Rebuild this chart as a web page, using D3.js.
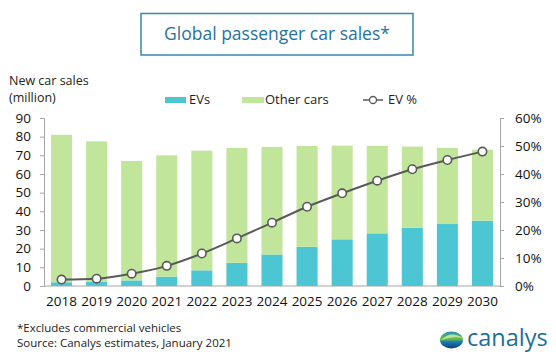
<!DOCTYPE html>
<html><head><meta charset="utf-8">
<script src="https://cdn.jsdelivr.net/npm/d3@7"></script>
<style>body{margin:0;background:#fff}svg{display:block;font-family:"Open Sans",sans-serif}</style>
</head><body><svg id="c" width="556" height="355"></svg>
<script>
const years = ["2018","2019","2020","2021","2022","2023","2024","2025","2026","2027","2028","2029","2030"];
const evSales = [2, 2.2, 3, 5, 8.4, 12.4, 16.9, 21, 25, 28.2, 31.2, 33.2, 35];
const totalSales = [81, 77.5, 67, 70, 72.5, 74, 74.5, 75, 75.2, 75.1, 74.7, 74, 73];
const evPct = [2.3, 2.6, 4.4, 7.2, 11.6, 17, 22.6, 28.3, 33.1, 37.6, 41.7, 45, 48];
const leftTicks = [0,10,20,30,40,50,60,70,80,90];
const rightTicks = [0,10,20,30,40,50,60];

const svg = d3.select("#c");
const x0=44, x1=500, yTop=118, yBot=286;
const x = d3.scaleBand().domain(years).range([x0,x1]).paddingInner(0.4).paddingOuter(0.2);
const yL = d3.scaleLinear().domain([0,90]).range([yBot,yTop]);
const yR = d3.scaleLinear().domain([0,60]).range([yBot,yTop]);
const cEV="#4bc6d2", cOther="#c1e59a", cLine="#595959";

// title box
svg.append("rect").attr("x",141).attr("y",13.5).attr("width",272).attr("height",41.5)
  .attr("fill","#fff").attr("stroke","#3a86ad").attr("stroke-width",1.5);
svg.append("text").attr("x",277).attr("y",40).attr("text-anchor","middle")
  .attr("font-size",17.5).attr("fill","#1f73a0").text("Global passenger car sales*");

// y-axis title
svg.append("text").attr("x",9).attr("y",85).attr("font-size",12.5).attr("fill","#222").text("New car sales");
svg.append("text").attr("x",9).attr("y",102).attr("font-size",12.5).attr("fill","#222").text("(million)");

// bars
const g = svg.append("g");
g.selectAll(".ev").data(years).join("rect")
  .attr("x",d=>x(d)).attr("width",x.bandwidth())
  .attr("y",(d,i)=>yL(evSales[i])).attr("height",(d,i)=>yL(0)-yL(evSales[i])).attr("fill",cEV);
g.selectAll(".ot").data(years).join("rect")
  .attr("x",d=>x(d)).attr("width",x.bandwidth())
  .attr("y",(d,i)=>yL(totalSales[i])).attr("height",(d,i)=>yL(evSales[i])-yL(totalSales[i])).attr("fill",cOther);

// axes
const axL = svg.append("g").attr("transform",`translate(${x0},0)`)
  .call(d3.axisLeft(yL).tickValues(leftTicks).tickSize(4).tickPadding(9));
const axR = svg.append("g").attr("transform",`translate(${x1},0)`)
  .call(d3.axisRight(yR).tickValues(rightTicks).tickFormat(d=>d+"%").tickSize(4).tickPadding(11));
const axB = svg.append("g").attr("transform",`translate(0,${yBot})`)
  .call(d3.axisBottom(x).tickSize(0).tickPadding(10));
[axL,axR,axB].forEach(a=>{
  a.selectAll("path,line").attr("stroke","#a6a6a6");
  a.selectAll("text").attr("font-size",13.5).attr("fill","#111").attr("font-family","Open Sans, sans-serif");
});
axB.select(".domain").attr("d",`M${x0},0H${x1}`);

// line
const pts = years.map((d,i)=>[x(d)+x.bandwidth()/2, yR(evPct[i])]);
svg.append("path").attr("d",d3.line().curve(d3.curveMonotoneX)(pts))
  .attr("fill","none").attr("stroke",cLine).attr("stroke-width",2);
svg.selectAll(".pt").data(pts).join("circle")
  .attr("cx",d=>d[0]).attr("cy",d=>d[1]).attr("r",4.2)
  .attr("fill","#fff").attr("stroke",cLine).attr("stroke-width",1.6);

// legend
const lg = svg.append("g").attr("font-size",13).attr("fill","#222");
lg.append("rect").attr("x",165).attr("y",97).attr("width",21).attr("height",6).attr("fill",cEV);
lg.append("text").attr("x",189).attr("y",104).text("EVs");
lg.append("rect").attr("x",242).attr("y",97).attr("width",22).attr("height",6).attr("fill",cOther);
lg.append("text").attr("x",265).attr("y",104).text("Other cars");
lg.append("line").attr("x1",363).attr("x2",383).attr("y1",100).attr("y2",100).attr("stroke",cLine).attr("stroke-width",1.5);
lg.append("circle").attr("cx",373).attr("cy",100).attr("r",3.5).attr("fill","#fff").attr("stroke",cLine).attr("stroke-width",1.3);
lg.append("text").attr("x",388).attr("y",104).text("EV %");

// footnotes
svg.append("text").attr("x",17).attr("y",332).attr("font-size",11.5).attr("fill","#222").text("*Excludes commercial vehicles");
svg.append("text").attr("x",17).attr("y",347).attr("font-size",11.5).attr("fill","#222").text("Source: Canalys estimates, January 2021");

// logo
const defs = svg.append("defs");
const gr = defs.append("linearGradient").attr("id","gl").attr("x1","0").attr("y1","0").attr("x2","0").attr("y2","1");
gr.append("stop").attr("offset","0").attr("stop-color","#2a8fc0");
gr.append("stop").attr("offset","0.45").attr("stop-color","#6cbf3a");
gr.append("stop").attr("offset","0.6").attr("stop-color","#1f7bb0");
gr.append("stop").attr("offset","1").attr("stop-color","#0d3f7a");
svg.append("ellipse").attr("cx",451.5).attr("cy",340).attr("rx",11.5).attr("ry",8.5).attr("fill","url(#gl)");
svg.append("path").attr("d","M441,340 Q451,330 463,338 Q452,336 441,340Z").attr("fill","#d8efb0").attr("opacity",0.8);
svg.append("text").attr("x",467).attr("y",346).attr("font-size",23.5).attr("fill","#1d6f95").text("canalys");
</script></body></html>
